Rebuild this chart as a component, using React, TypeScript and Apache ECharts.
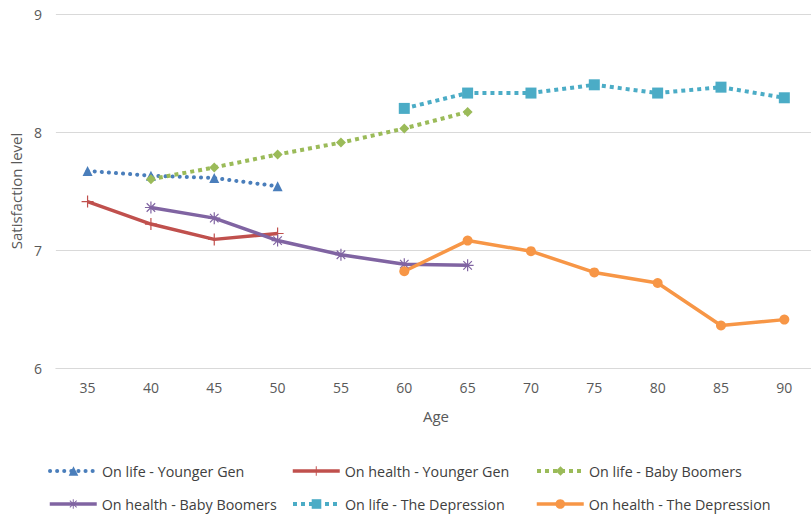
import React, { useEffect, useRef } from "react";
import * as echarts from "echarts";

const ages = ["35", "40", "45", "50", "55", "60", "65", "70", "75", "80", "85", "90"];
const lifeYounger = [7.67, 7.63, 7.61, 7.54, null, null, null, null, null, null, null, null];
const healthYounger = [7.41, 7.22, 7.09, 7.14, null, null, null, null, null, null, null, null];
const lifeBoomers = [null, 7.6, 7.7, 7.81, 7.91, 8.03, 8.17, null, null, null, null, null];
const healthBoomers = [null, 7.36, 7.27, 7.08, 6.96, 6.88, 6.87, null, null, null, null, null];
const lifeDepression = [null, null, null, null, null, 8.2, 8.33, 8.33, 8.4, 8.33, 8.38, 8.29];
const healthDepression = [null, null, null, null, null, 6.82, 7.08, 6.99, 6.81, 6.72, 6.36, 6.41];

const seriesNames = [
  "On life - Younger Gen",
  "On health - Younger Gen",
  "On life - Baby Boomers",
  "On health - Baby Boomers",
  "On life - The Depression",
  "On health - The Depression",
];

const plusPath = "path://M0,9 L20,9 L20,11 L0,11 Z M9,0 L11,0 L11,20 L9,20 Z";
const starPath =
  "path://M0,9 L20,9 L20,11 L0,11 Z M9,0 L11,0 L11,20 L9,20 Z M2.2,3.6 L3.6,2.2 L17.8,16.4 L16.4,17.8 Z M16.4,2.2 L17.8,3.6 L3.6,17.8 L2.2,16.4 Z";

export default function App() {
  const ref = useRef<HTMLDivElement>(null);
  useEffect(() => {
    if (!ref.current) return;
    const chart = echarts.init(ref.current, null, { renderer: "svg" });
    const font = "Open Sans";
    const colors = ["#4a7ebb", "#c0504d", "#9bbb59", "#8064a2", "#4bacc6", "#f79646"];
    const datas = [lifeYounger, healthYounger, lifeBoomers, healthBoomers, lifeDepression, healthDepression];
    const symbols = ["triangle", plusPath, "diamond", starPath, "rect", "circle"];
    const symbolSizes = [10, 12, 10, 12, 11, 10];
    const lineTypes: any[] = [[0.1, 7], "solid", [4, 4], "solid", [4, 4], "solid"];
    const caps = ["round", "butt", "butt", "butt", "butt", "butt"];
    const widths = [4, 3.5, 4, 3.5, 4, 3.5];
    const series = datas.map((d, i) => ({
      name: seriesNames[i],
      type: "line",
      data: d,
      symbol: symbols[i],
      symbolSize: symbolSizes[i],
      connectNulls: false,
      itemStyle: { color: colors[i] },
      lineStyle: { color: colors[i], width: widths[i], type: lineTypes[i], cap: caps[i] },
    }));
    const legendPos = [
      { left: 48, top: 464 },
      { left: 291, top: 464 },
      { left: 535, top: 464 },
      { left: 48, top: 497 },
      { left: 291, top: 497 },
      { left: 535, top: 497 },
    ];
    const legends = seriesNames.map((n, i) => ({
      data: [{ name: n, lineStyle: { width: widths[i], type: lineTypes[i], cap: caps[i] } }],
      left: legendPos[i].left,
      top: legendPos[i].top,
      padding: 0,
      itemWidth: 47,
      itemHeight: 12,
      itemGap: 0,
      selectedMode: false,
      textStyle: { fontFamily: font, fontSize: 14.3, color: "#404040" },
    }));
    chart.setOption({
      animation: false,
      backgroundColor: "#ffffff",
      grid: { left: 55, right: 0, top: 14, bottom: 149 },
      legend: legends,
      xAxis: {
        type: "category",
        data: ages,
        boundaryGap: true,
        name: "Age",
        nameLocation: "middle",
        nameGap: 40,
        nameTextStyle: { fontFamily: font, fontSize: 15, color: "#595959" },
        axisLine: { lineStyle: { color: "#d9d9d9", width: 1 } },
        axisTick: { show: false },
        axisLabel: { fontFamily: font, fontSize: 14, color: "#595959", margin: 12 },
      },
      yAxis: {
        type: "value",
        min: 6,
        max: 9,
        interval: 1,
        name: "Satisfaction level",
        nameLocation: "middle",
        nameGap: 32,
        nameTextStyle: { fontFamily: font, fontSize: 15, color: "#595959" },
        axisLine: { show: false },
        axisTick: { show: false },
        splitLine: { lineStyle: { color: "#d9d9d9", width: 1 } },
        axisLabel: { fontFamily: font, fontSize: 14, color: "#595959", margin: 14 },
      },
      series,
    });
    return () => chart.dispose();
  }, []);
  return (
    <div style={{ width: 811, height: 517, position: "absolute", left: 0, top: 0, overflow: "hidden" }}>
      <div ref={ref} style={{ width: 816, height: 517 }} />
    </div>
  );
}
